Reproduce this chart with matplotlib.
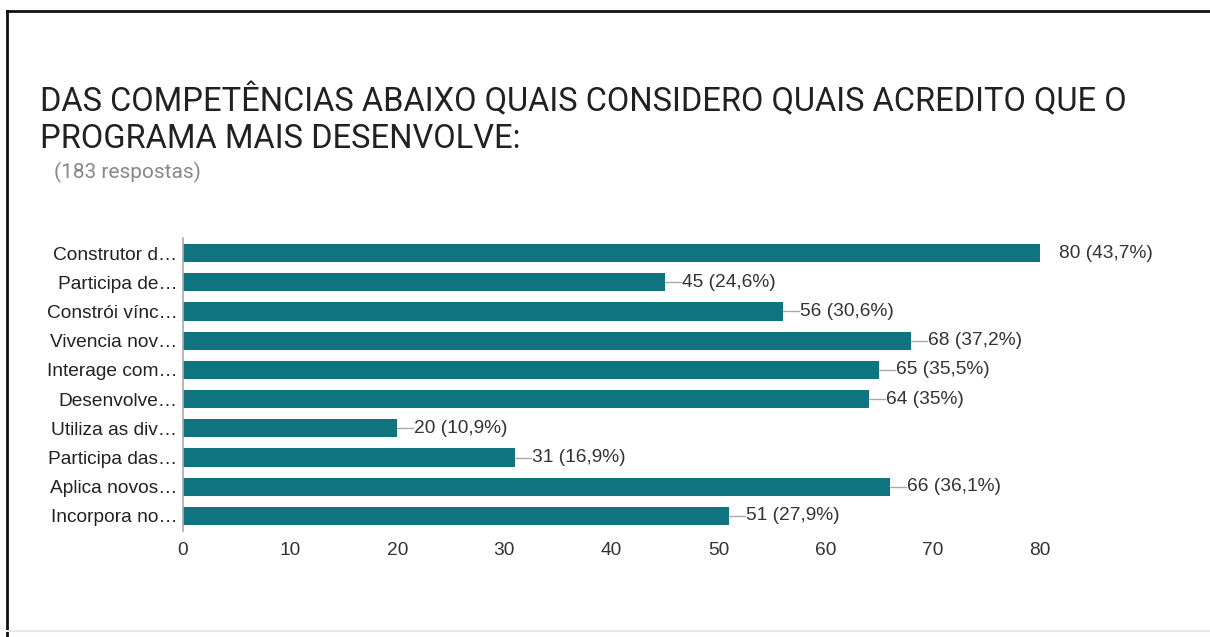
import numpy as np
import matplotlib.pyplot as plt
from matplotlib.lines import Line2D

# data
labels = ["Construtor d…", "Participa de…", "Constrói vínc…", "Vivencia nov…",
          "Interage com…", "Desenvolve…", "Utiliza as div…", "Participa das…",
          "Aplica novos…", "Incorpora no…"]
counts = [80, 45, 56, 68, 65, 64, 20, 31, 66, 51]
pcts = ["43,7%", "24,6%", "30,6%", "37,2%", "35,5%", "35%", "10,9%", "16,9%",
        "36,1%", "27,9%"]
xticks = [0, 10, 20, 30, 40, 50, 60, 70, 80]

bar_color = "#0f7480"
W, H = 1210, 637
lab_font = dict(fontfamily="Liberation Sans", fontsize=13.8)

fig = plt.figure(figsize=(W / 100, H / 100), dpi=100)
ax = fig.add_axes([183 / W, 1 - 530.6 / H, (1040 - 183) / W, (530.6 - 238.4) / H])

y = np.arange(len(labels))
ax.barh(y, counts, height=0.62, color=bar_color)
ax.set_ylim(len(labels) - 0.5, -0.5)
ax.set_xlim(0, 80)

ax.set_yticks(y)
ax.set_yticklabels(labels, color="#222222", **lab_font)
ax.set_xticks(xticks)
ax.set_xticklabels([str(t) for t in xticks], color="#333333", **lab_font)
ax.tick_params(axis="both", length=0)
ax.tick_params(axis="x", pad=8)
ax.tick_params(axis="y", pad=4)
for s in ["top", "right", "bottom"]:
    ax.spines[s].set_visible(False)
ax.spines["left"].set_color("#aaaaaa")
ax.spines["left"].set_linewidth(1.2)

# value labels with leader lines
px = 80 / (1040 - 183)
for i, (c, p) in enumerate(zip(counts, pcts)):
    if i == 0:
        ax.text(c + 19 * px, i, f"{c} ({p})", va="center", ha="left",
                color="#333333", clip_on=False, **lab_font)
    else:
        ax.plot([c, c + 16 * px], [i, i], color="#aaaaaa", lw=1, clip_on=False)
        ax.text(c + 17 * px, i, f"{c} ({p})", va="center", ha="left",
                color="#333333", clip_on=False, **lab_font)

# title block
fig.text(40 / W, 1 - 101 / H, "DAS COMPETÊNCIAS ABAIXO QUAIS CONSIDERO QUAIS ACREDITO QUE O",
         fontfamily="Roboto", fontsize=23.5, color="#212121", va="center", ha="left")
fig.text(40 / W, 1 - 139 / H, "PROGRAMA MAIS DESENVOLVE:",
         fontfamily="Roboto", fontsize=23.5, color="#212121", va="center", ha="left")
fig.text(54 / W, 1 - 172 / H, "(183 respostas)",
         fontfamily="Roboto", fontsize=15, color="#888888", va="center", ha="left")

# frame lines from the screenshot
fig.add_artist(Line2D([7 / W, 1], [1 - 11 / H, 1 - 11 / H], color="#111111", lw=2,
                      transform=fig.transFigure))
fig.add_artist(Line2D([7 / W, 7 / W], [0, 1 - 11 / H], color="#111111", lw=2,
                      transform=fig.transFigure))
fig.add_artist(Line2D([7 / W, 1], [1 - 631 / H, 1 - 631 / H], color="#e6e6e6", lw=1.5,
                      transform=fig.transFigure))

fig.savefig("out.png", dpi=100)
